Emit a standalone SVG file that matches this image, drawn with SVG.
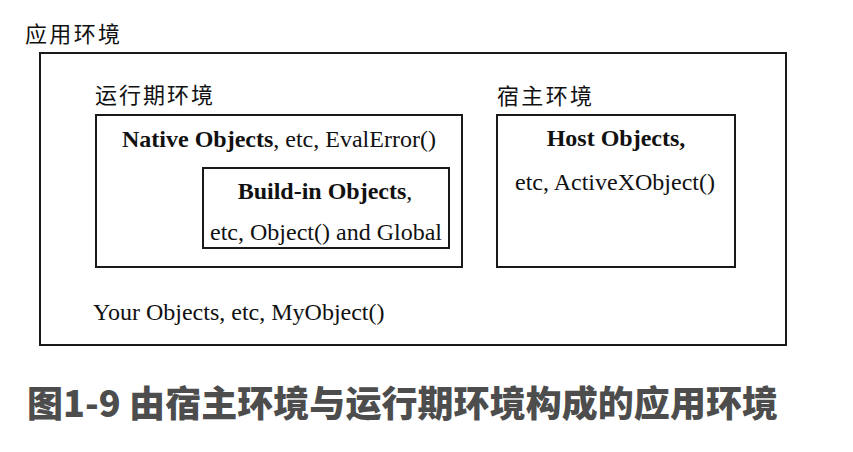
<svg xmlns="http://www.w3.org/2000/svg" width="853" height="452" viewBox="0 0 853 452">
<style>
.box{fill:none;stroke:#1a1a1a;stroke-width:2}
.cn{font-family:"Noto Sans CJK SC","Noto Sans",sans-serif;font-size:22px;fill:#111}
.t{font-family:"Liberation Serif",serif;font-size:24px;fill:#111}
.b{font-weight:bold}
.cap{font-family:"Noto Sans CJK SC",sans-serif;font-size:36px;font-weight:900;fill:#4d4d4d}
</style>
<rect width="853" height="452" fill="#fff"/>
<g id="app">
<rect class="box" x="40" y="53" width="746" height="292"/>
<text class="cn" x="25" y="42" textLength="95">应用环境</text>
<text class="t" x="93" y="320">Your Objects, etc, MyObject()</text>
</g>
<g id="runtime">
<rect class="box" x="96" y="115" width="366" height="152"/>
<text class="cn" x="95" y="103" textLength="118">运行期环境</text>
<text class="t" x="122" y="147"><tspan class="b">Native Objects</tspan>, etc, EvalError()</text>
</g>
<g id="buildin">
<rect class="box" x="203" y="168" width="246" height="80"/>
<text class="t" x="325" y="199" text-anchor="middle"><tspan class="b">Build-in Objects</tspan>,</text>
<text class="t" x="326" y="240" text-anchor="middle">etc, Object() and Global</text>
</g>
<g id="host">
<rect class="box" x="497" y="115" width="238" height="152"/>
<text class="cn" x="497" y="104" textLength="95">宿主环境</text>
<text class="t b" x="616" y="146" text-anchor="middle">Host Objects,</text>
<text class="t" x="615" y="190" text-anchor="middle">etc, ActiveXObject()</text>
</g>
<g id="connectors"/>
<text class="cap" x="27" y="417" textLength="751">图1-9 由宿主环境与运行期环境构成的应用环境</text>
</svg>
